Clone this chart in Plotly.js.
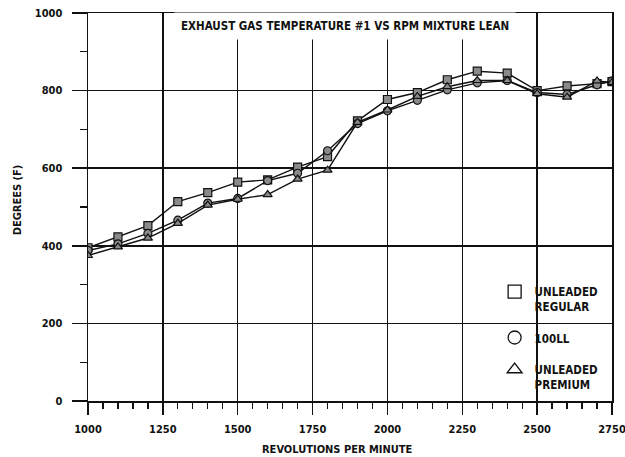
<!DOCTYPE html>
<html>
<head>
<meta charset="utf-8">
<script src="https://cdn.plot.ly/plotly-3.0.1.min.js"></script>
<style>
  html, body { margin: 0; padding: 0; background: #fff; }
  #chart { width: 625px; height: 457px; }
</style>
</head>
<body>
<div id="chart"></div>
<script>
// Engine speed (RPM) at each test point
const rpm = [1000, 1100, 1200, 1300, 1400, 1500, 1600, 1700, 1800, 1900,
             2000, 2100, 2200, 2300, 2400, 2500, 2600, 2700, 2750];

// Exhaust gas temperature #1, degrees F, lean mixture
const unleadedRegular = [395, 423, 452, 514, 537, 564, 570, 603, 630, 722,
                         777, 795, 828, 850, 845, 800, 812, 818, 823];
const avgas100LL      = [388, 405, 432, 466, 510, 522, 568, 587, 645, 715,
                         748, 775, 802, 820, 826, 795, 790, 815, 825];
const unleadedPremium = [375, 397, 420, 458, 505, 520, 532, 572, 595, 718,
                         750, 785, 810, 826, 826, 792, 783, 825, 821];

const seriesNames = ['UNLEADED<br>REGULAR', '100LL', 'UNLEADED<br>PREMIUM'];
const seriesSymbols = ['square', 'circle', 'triangle-up'];

// Axis ticks
const xTicks = [1000, 1250, 1500, 1750, 2000, 2250, 2500, 2750];
const yTicks = [0, 200, 400, 600, 800, 1000];

const FONT = "'Liberation Sans Narrow', 'Arial Narrow', 'DejaVu Sans Condensed', sans-serif";
const INK = '#111111';

const seriesValues = [unleadedRegular, avgas100LL, unleadedPremium];

const traces = [];
seriesValues.forEach((vals, i) => {
  traces.push({
    type: 'scatter',
    mode: 'lines+markers',
    x: rpm,
    y: vals,
    showlegend: false,
    line: { color: INK, width: 1.4 },
    marker: {
      symbol: seriesSymbols[i],
      size: 8,
      color: '#8a8a8a',
      line: { color: INK, width: 1.2 }
    },
    hoverinfo: 'x+y'
  });
});

// Legend entries: open symbols
seriesNames.forEach((name, i) => {
  traces.push({
    type: 'scatter',
    mode: 'markers',
    x: [null],
    y: [null],
    name: name,
    legendgroup: 'g' + i,
    marker: {
      symbol: seriesSymbols[i] + '-open',
      size: 13,
      color: INK,
      line: { color: INK, width: 1.3 }
    }
  });
});

const tickFont = { family: FONT, size: 11, color: INK, weight: 'bold' };

const layout = {
  width: 625,
  height: 457,
  margin: { l: 88, r: 13, t: 13, b: 56 },
  paper_bgcolor: '#ffffff',
  plot_bgcolor: '#ffffff',
  font: { family: FONT, size: 11, color: INK, weight: 'bold' },
  showlegend: true,
  legend: {
    x: 0.776,
    xanchor: 'left',
    y: 0.318,
    yanchor: 'top',
    bgcolor: 'rgba(0,0,0,0)',
    borderwidth: 0,
    valign: 'top',
    tracegroupgap: 13,
    traceorder: 'grouped',
    font: { family: FONT, size: 11.5, color: INK, weight: 'bold' }
  },
  xaxis: {
    range: [1000, 2750],
    tickvals: xTicks,
    ticktext: xTicks.map(String),
    ticks: 'outside',
    ticklen: 12,
    tickwidth: 1.5,
    tickcolor: INK,
    ticklabelstandoff: 5,
    ticklabeloverflow: 'allow',
    showline: true,
    linecolor: INK,
    linewidth: 1.5,
    mirror: true,
    showgrid: true,
    gridcolor: INK,
    gridwidth: 1.5,
    zeroline: false,
    minor: { dtick: 50, ticks: 'outside', ticklen: 6, tickwidth: 1.3, tickcolor: INK, showgrid: false },
    tickfont: tickFont
  },
  yaxis: {
    range: [0, 1000],
    tickvals: yTicks,
    ticktext: yTicks.map(String),
    ticks: 'outside',
    ticklen: 15,
    tickwidth: 1.5,
    tickcolor: INK,
    ticklabelstandoff: 7,
    ticklabeloverflow: 'allow',
    showline: true,
    linecolor: INK,
    linewidth: 1.5,
    mirror: true,
    showgrid: true,
    gridcolor: INK,
    gridwidth: 1.5,
    zeroline: false,
    minor: { dtick: 100, ticks: 'outside', ticklen: 7, tickwidth: 1.3, tickcolor: INK, showgrid: false },
    tickfont: tickFont
  },
  // White panels behind the legend entries, above the grid but below the traces
  shapes: [
    {
      type: 'rect', xref: 'paper', yref: 'paper', layer: 'between',
      x0: 0.754, x1: 0.985, y0: 0.134, y1: 0.304,
      fillcolor: '#ffffff', line: { width: 0 }
    },
    {
      type: 'rect', xref: 'paper', yref: 'paper', layer: 'between',
      x0: 0.754, x1: 0.985, y0: 0.023, y1: 0.111,
      fillcolor: '#ffffff', line: { width: 0 }
    }
  ],
  annotations: [
    {
      text: 'EXHAUST GAS TEMPERATURE #1 VS RPM MIXTURE LEAN',
      xref: 'paper', yref: 'paper',
      x: 0.49, y: 0.966,
      xanchor: 'center', yanchor: 'middle',
      showarrow: false,
      bgcolor: '#ffffff',
      borderpad: 6,
      font: { family: FONT, size: 11.5, color: INK, weight: 'bold' }
    },
    {
      text: 'REVOLUTIONS PER MINUTE',
      xref: 'paper', yref: 'paper',
      x: 0.477, y: -0.125,
      xanchor: 'center', yanchor: 'middle',
      showarrow: false,
      font: { family: FONT, size: 11, color: INK, weight: 'bold' }
    },
    {
      text: 'DEGREES (F)',
      xref: 'paper', yref: 'paper',
      x: -0.135, y: 0.518,
      xanchor: 'center', yanchor: 'middle',
      textangle: -90,
      showarrow: false,
      font: { family: FONT, size: 11, color: INK, weight: 'bold' }
    }
  ]
};

Plotly.newPlot('chart', traces, layout, { displayModeBar: false, staticPlot: true });
</script>
</body>
</html>
